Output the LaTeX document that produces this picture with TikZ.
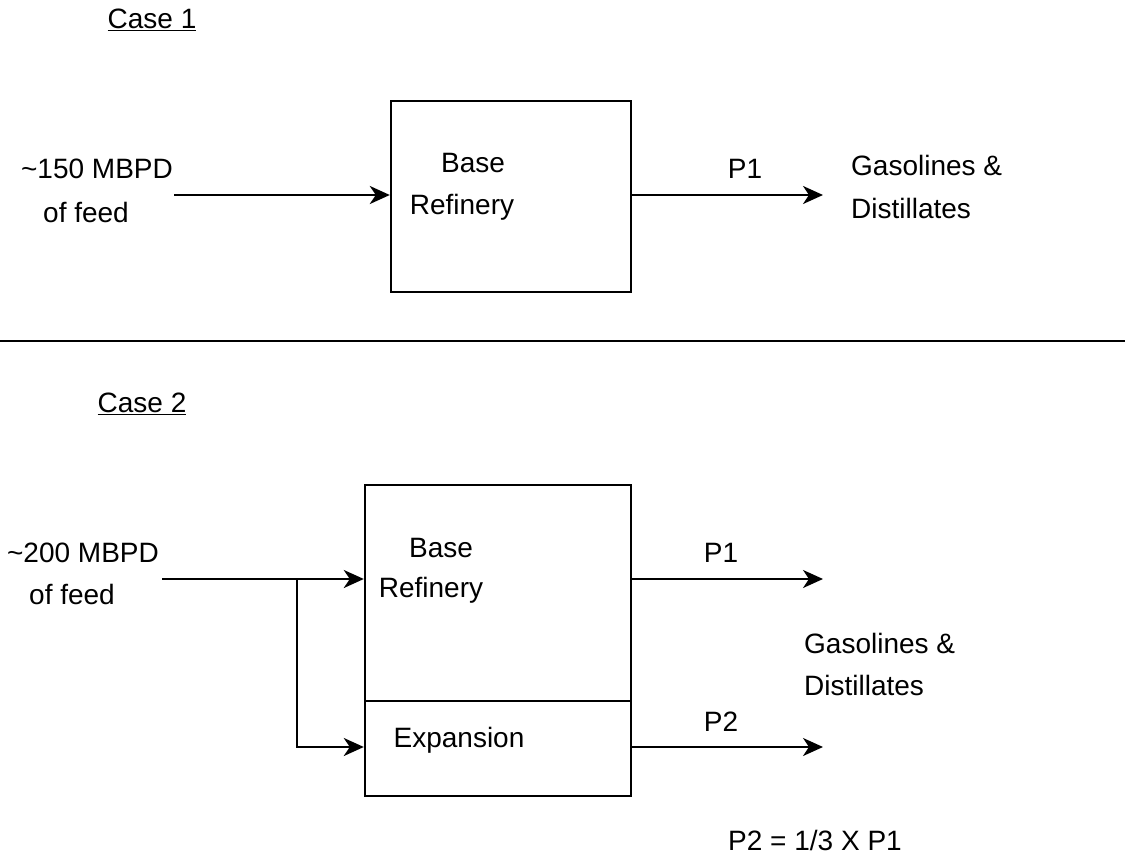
\documentclass[tikz,border=0pt]{standalone}
\usepackage{fontspec}
\setmainfont{Liberation Sans}
\usetikzlibrary{arrows.meta}
\begin{document}
\begin{tikzpicture}[x=1pt,y=-1pt,
  lbl/.style={inner sep=0pt,font=\fontsize{28}{32}\selectfont},
  boxstyle/.style={draw,line width=2.4pt,inner sep=0pt},
  conn/.style={line width=2.4pt},
  arr/.style={conn,-{Stealth[length=20pt,width=18pt,inset=6pt]}}]
\useasboundingbox (0,0) rectangle (1125,856);
% ---------- Case 1 ----------
\node[lbl] (case1) at (152,20) {\underline{Case 1}};
\node[boxstyle,minimum width=240pt,minimum height=191pt] (box1) at (511,196.5) {};
\node[lbl] (base1) at (473,163) {Base};
\node[lbl] (ref1) at (462,207) {Refinery};
\node[lbl] (feed1a) at (97,169) {\textasciitilde150 MBPD};
\node[lbl] (feed1b) at (86,212) {of feed};
\node[lbl] (p1a) at (745,169) {P1};
\node[lbl,anchor=west] (gas1) at (851,165) {Gasolines \&};
\node[lbl,anchor=west] (dist1) at (851,208) {Distillates};
\coordinate (in1) at (174,195);
\coordinate (out1) at (823,195);
\draw[arr] (in1) -- (in1 -| box1.west);
\draw[arr] (box1.east |- out1) -- (out1);
% ---------- separator ----------
\coordinate (sepL) at (0,341);
\coordinate (sepR) at (1125,341);
\draw[conn] (sepL) -- (sepR);
% ---------- Case 2 ----------
\node[lbl] (case2) at (142,404) {\underline{Case 2}};
\node[boxstyle,minimum width=266pt,minimum height=216pt] (box2) at (498,593) {};
\node[boxstyle,minimum width=266pt,minimum height=95pt] (exp2) at (498,748.5) {};
\node[lbl] (base2) at (441,548) {Base};
\node[lbl] (ref2) at (431,590) {Refinery};
\node[lbl] (expt) at (459,740) {Expansion};
\node[lbl] (feed2a) at (83,553) {\textasciitilde200 MBPD};
\node[lbl] (feed2b) at (72,594) {of feed};
\node[lbl] (p1b) at (721,553) {P1};
\node[lbl] (p2b) at (721,722) {P2};
\node[lbl,anchor=west] (gas2) at (804,643) {Gasolines \&};
\node[lbl,anchor=west] (dist2) at (804,685) {Distillates};
\node[lbl] (rel) at (815,840) {P2 = 1/3 X P1};
\coordinate (in2) at (162,579);
\coordinate (split) at (297,579);
\coordinate (out2a) at (823,579);
\coordinate (out2b) at (823,747);
\draw[arr] (in2) -- (in2 -| box2.west);
\draw[arr] (split) |- (exp2.west |- out2b);
\draw[arr] (box2.east |- out2a) -- (out2a);
\draw[arr] (exp2.east |- out2b) -- (out2b);
\end{tikzpicture}
\end{document}
